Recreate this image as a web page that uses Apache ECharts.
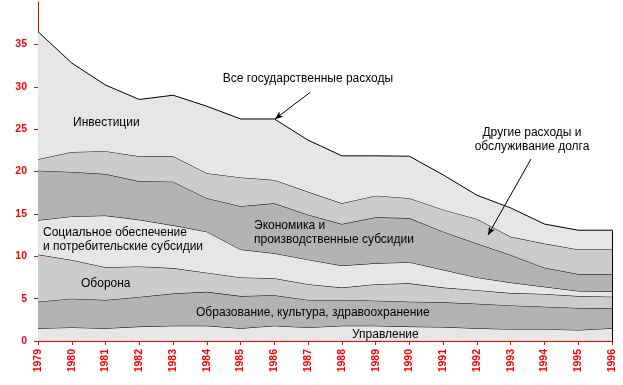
<!DOCTYPE html>
<html>
<head>
<meta charset="utf-8">
<script src="https://cdn.jsdelivr.net/npm/echarts@6/dist/echarts.min.js"></script>
<style>html,body{margin:0;padding:0;background:#fff}#c{width:623px;height:385px}</style>
</head>
<body>
<div id="c"></div>
<script>
var years = ['1979','1980','1981','1982','1983','1984','1985','1986','1987','1988','1989','1990','1991','1992','1993','1994','1995','1996'];
var upravlenie   = [1.5, 1.6, 1.5, 1.7, 1.8, 1.8, 1.5, 1.8, 1.6, 1.8, 1.8, 1.7, 1.65, 1.5, 1.4, 1.4, 1.3, 1.5];
var obrazovanie  = [3.14, 3.4, 3.34, 3.5, 3.8, 4.0, 3.8, 3.6, 3.25, 3.05, 2.96, 2.94, 2.92, 2.9, 2.8, 2.65, 2.6, 2.36];
var oborona      = [5.56, 4.56, 3.86, 3.6, 3.0, 2.26, 2.2, 2.0, 1.85, 1.45, 1.94, 2.16, 1.73, 1.6, 1.45, 1.5, 1.4, 1.37];
var socialnoe    = [4.05, 5.14, 6.1, 5.5, 5.05, 4.84, 3.3, 2.95, 2.9, 2.6, 2.47, 2.5, 2.1, 1.5, 1.25, 0.85, 0.6, 0.63];
var ekonomika    = [5.85, 5.25, 4.9, 4.55, 5.15, 3.95, 5.1, 5.9, 5.3, 4.9, 5.43, 5.2, 4.5, 4.0, 3.25, 2.25, 2.0, 2.01];
var drugie       = [1.35, 2.35, 2.7, 2.95, 3.0, 2.95, 3.4, 2.75, 2.7, 2.45, 2.55, 2.35, 2.6, 2.9, 2.15, 2.85, 2.9, 2.93];
var investicii   = [15.05, 10.5, 7.8, 6.7, 7.2, 7.9, 6.9, 7.2, 6.1, 5.6, 4.7, 4.95, 4.1, 2.8, 3.4, 2.3, 2.27, 2.27];
var yTicks = [0, 5, 10, 15, 20, 25, 30, 35];

var LIGHT = '#e6e6e6', MED = '#cccccc', DARK = '#b3b3b3';
var layers = [
  {name:'Управление', data:upravlenie, color:LIGHT},
  {name:'Образование, культура, здравоохранение', data:obrazovanie, color:DARK},
  {name:'Оборона', data:oborona, color:MED},
  {name:'Социальное обеспечение и потребительские субсидии', data:socialnoe, color:LIGHT},
  {name:'Экономика и производственные субсидии', data:ekonomika, color:DARK},
  {name:'Другие расходы и обслуживание долга', data:drugie, color:MED},
  {name:'Инвестиции', data:investicii, color:LIGHT}
];
var last = years.length - 1;
var total = layers.reduce(function(s,l){return s + l.data[last];}, 0);

var series = layers.map(function(l, i){
  var s = {
    name: l.name, type: 'line', stack: 'all', data: l.data,
    symbol: 'none', smooth: false,
    lineStyle: {color:'#000', width:1},
    areaStyle: {color:l.color, opacity:1},
    emphasis: {disabled:true}, silent: true, z: 2 + i
  };
  if (i === layers.length - 1) {
    s.markLine = {
      silent: true, symbol: ['none','none'], label:{show:false}, z: 30,
      lineStyle:{color:'#000', width:1, type:'solid'},
      data: [[{coord:[years[last], 0]}, {coord:[years[last], total]}]]
    };
  }
  return s;
});

// arrows (annotation)
series.push({
  type:'line', data:[], silent:true, z:40,
  markLine:{
    silent:true, z:50, symbol:['none','arrow'], symbolSize:[5,8], label:{show:false},
    lineStyle:{color:'#000', width:1, type:'solid'},
    data:[
      [{x:310, y:92.5}, {x:275, y:119}],
      [{x:531, y:159}, {x:488, y:235}]
    ]
  }
});

var FONT = 'Liberation Sans, Arial, sans-serif';
function txt(x, y, s, align){
  return {type:'text', x:x, y:y, z:100, style:{text:s, fill:'#000', font:'12px ' + FONT, textAlign:align||'left', textVerticalAlign:'middle'}};
}

var chart = echarts.init(document.getElementById('c'), null, {renderer:'canvas'});
chart.setOption({
  animation:false,
  backgroundColor:'#fff',
  grid:{left:38, right:11, top:2, bottom:44, containLabel:false},
  xAxis:{
    type:'category', data:years, boundaryGap:false,
    axisLine:{lineStyle:{color:'#ff0000', width:1}},
    axisTick:{show:true, length:4, lineStyle:{color:'#ff0000'}},
    axisLabel:{rotate:90, margin:8, color:'#ff0000', fontWeight:'bold', fontSize:10.5, fontFamily:FONT, interval:0},
    splitLine:{show:false}
  },
  yAxis:{
    type:'value', min:0, max:40, interval:5,
    axisLine:{show:true, lineStyle:{color:'#ff0000', width:1}},
    axisTick:{show:true, length:4, lineStyle:{color:'#ff0000'}},
    axisLabel:{margin:11, color:'#ff0000', fontWeight:'bold', fontSize:10.5, fontFamily:FONT, showMaxLabel:false,
      formatter:function(v){return yTicks.indexOf(v) >= 0 ? String(v) : '';}},
    splitLine:{show:false}
  },
  series: series,
  graphic:[
    txt(308, 79, 'Все государственные расходы', 'center'),
    txt(73, 123, 'Инвестиции'),
    txt(532, 133, 'Другие расходы и', 'center'),
    txt(532, 147, 'обслуживание долга', 'center'),
    txt(43, 233, 'Социальное обеспечение'),
    txt(43, 247, 'и потребительские субсидии'),
    txt(81, 284, 'Оборона'),
    txt(254, 226, 'Экономика и'),
    txt(254, 240, 'производственные субсидии'),
    txt(196, 313, 'Образование, культура, здравоохранение'),
    txt(352, 335, 'Управление')
  ]
});
</script>
</body>
</html>
